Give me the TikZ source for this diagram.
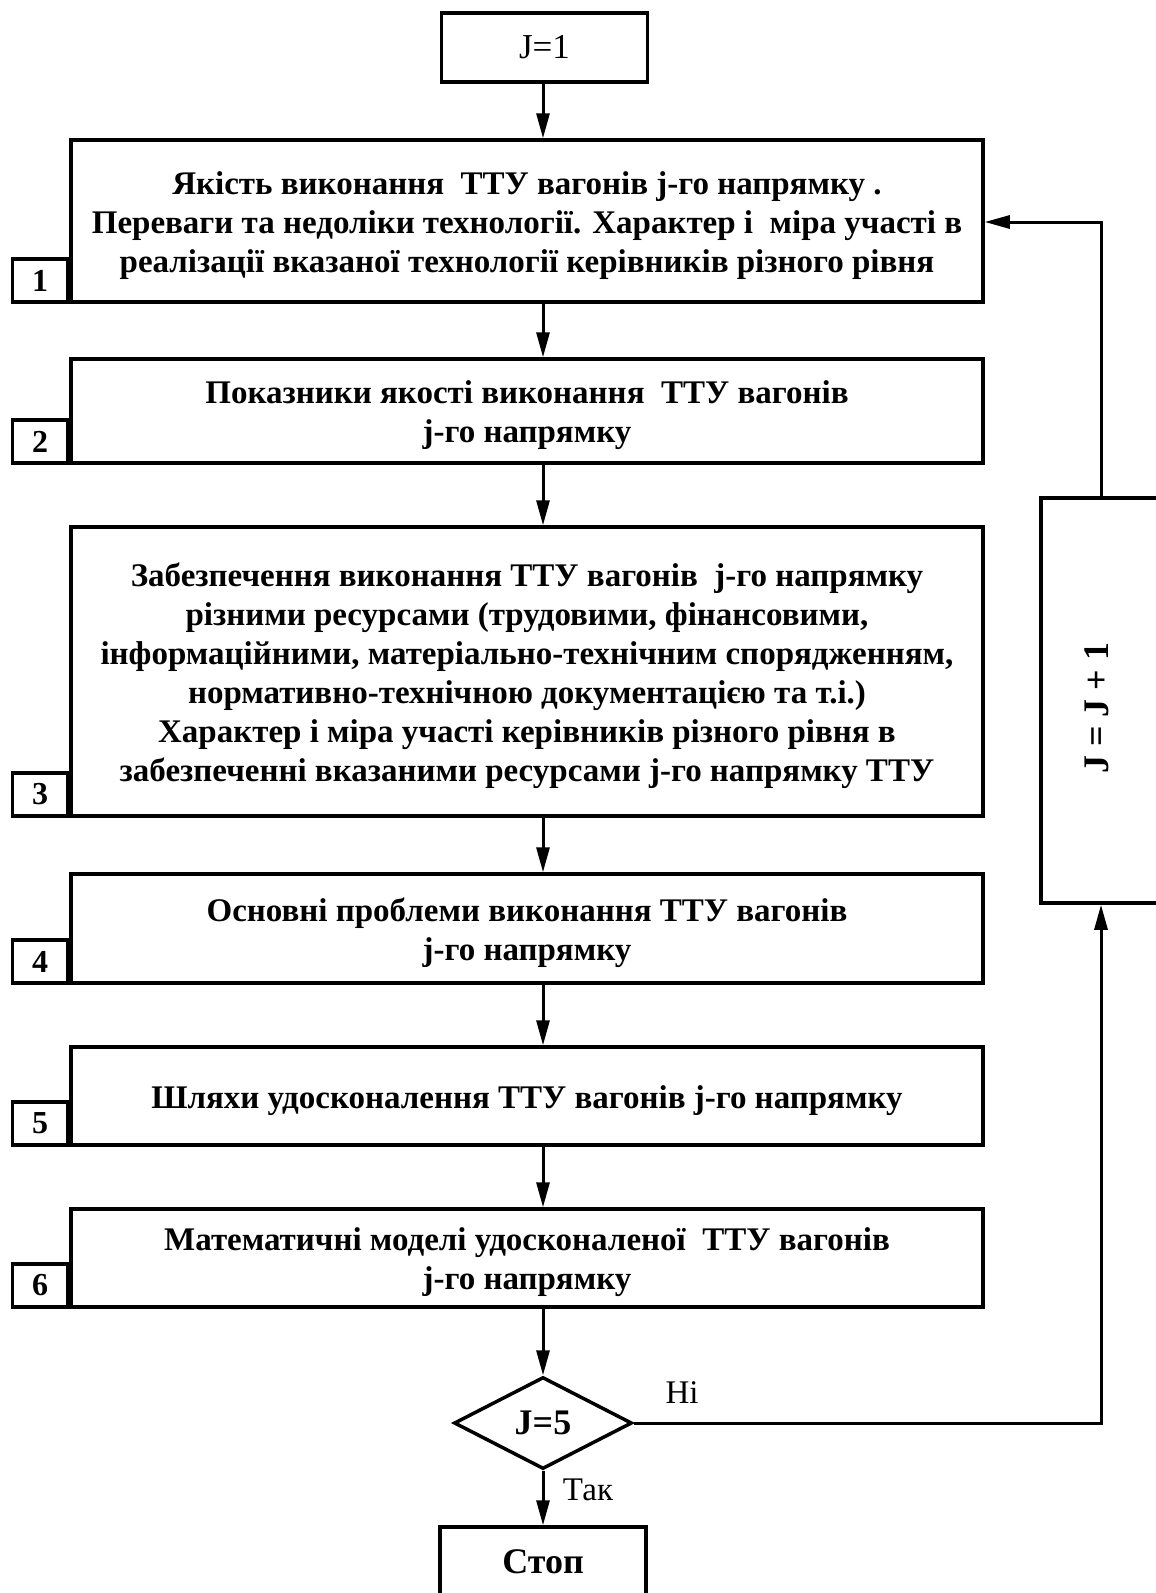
\documentclass[tikz,border=0pt]{standalone}
\usepackage{fontspec}
\setmainfont{Liberation Serif}
\usetikzlibrary{shapes.geometric,arrows.meta}
\newcommand\btext[1]{\raisebox{-10.5pt}[0pt][0pt]{\begin{tabular}{@{}c@{}}#1\end{tabular}}}
\begin{document}
\begin{tikzpicture}[x=1pt,y=-1pt,
  every node/.style={inner sep=0pt},
  mainbox/.style={draw,line width=3.5pt,minimum width=912pt,font=\fontsize{33}{39}\selectfont\bfseries},
  numbox/.style={draw,line width=3.5pt,minimum width=55pt,minimum height=43pt,font=\fontsize{32}{36}\selectfont\bfseries,anchor=south east},
  endbox/.style={draw,line width=3.5pt,minimum width=206pt,font=\fontsize{35}{40}\selectfont},
  arr/.style={line width=3pt,-{Triangle[length=25pt,width=13pt]}},
  lbl/.style={font=\fontsize{33}{38}\selectfont}]
\useasboundingbox (0,0) rectangle (1156,1593);
\clip (0,0) rectangle (1156,1593);
\coordinate (col) at (543,0);
\node[endbox,minimum height=69pt] (j1) at (544.5,47.5) {J=1};
\node[mainbox,minimum height=162pt] (b1) at (527,221) {\btext{Якість виконання~ ТТУ вагонів j-го напрямку .\\Переваги та недоліки технології. Характер і~ міра участі в\\реалізації вказаної технології керівників різного рівня}};
\node[numbox] (n1) at (b1.south west) {1};
\node[mainbox,minimum height=104pt] (b2) at (527,411) {\btext{Показники якості виконання~ ТТУ вагонів\\j-го напрямку}};
\node[numbox] (n2) at (b2.south west) {2};
\node[mainbox,minimum height=289pt] (b3) at (527,671.5) {\btext{Забезпечення виконання ТТУ вагонів~ j-го напрямку\\різними ресурсами (трудовими, фінансовими,\\інформаційними, матеріально-технічним спорядженням,\\нормативно-технічною документацією та т.і.)\\Характер і міра участі керівників різного рівня в\\забезпеченні вказаними ресурсами j-го напрямку ТТУ}};
\node[numbox] (n3) at (b3.south west) {3};
\node[mainbox,minimum height=109pt] (b4) at (527,928.5) {\btext{Основні проблеми виконання ТТУ вагонів\\j-го напрямку}};
\node[numbox] (n4) at (b4.south west) {4};
\node[mainbox,minimum height=98pt] (b5) at (527,1096) {\btext{Шляхи удосконалення ТТУ вагонів j-го напрямку}};
\node[numbox] (n5) at (b5.south west) {5};
\node[mainbox,minimum height=98pt] (b6) at (527,1258) {\btext{Математичні моделі удосконаленої~ ТТУ вагонів\\j-го напрямку}};
\node[numbox] (n6) at (b6.south west) {6};
\node[draw,diamond,line width=3.5pt,minimum width=178pt,minimum height=92pt,font=\fontsize{36}{40}\selectfont\bfseries] (d) at (543,1423) {J=5};
\node[endbox,minimum height=70pt,font=\fontsize{36}{40}\selectfont\bfseries] (stop) at (543,1562) {Стоп};
\node[draw,line width=3.5pt,minimum width=132pt,minimum height=405pt] (jj) at (1107,700.5) {};
\node[rotate=90,font=\fontsize{36}{40}\selectfont\bfseries] (jjt) at (1097,708) {J = J + 1};
\coordinate (fb) at (1101,222);
\draw[arr] (j1.south -| col) -- (b1.north -| col);
\draw[arr] (b1.south -| col) -- (b2.north -| col);
\draw[arr] (b2.south -| col) -- (b3.north -| col);
\draw[arr] (b3.south -| col) -- (b4.north -| col);
\draw[arr] (b4.south -| col) -- (b5.north -| col);
\draw[arr] (b5.south -| col) -- (b6.north -| col);
\draw[arr] (b6.south -| col) -- (d.north);
\draw[arr] (d.south) -- (stop.north);
\draw[arr] (d.east) -| (fb |- jj.south);
\draw[arr] (fb |- jj.north) -- (fb) -- (b1.east |- fb);
\node[lbl] (ni) at (682,1393) {Ні};
\node[lbl] (tak) at (588,1490) {Так};
\end{tikzpicture}
\end{document}
